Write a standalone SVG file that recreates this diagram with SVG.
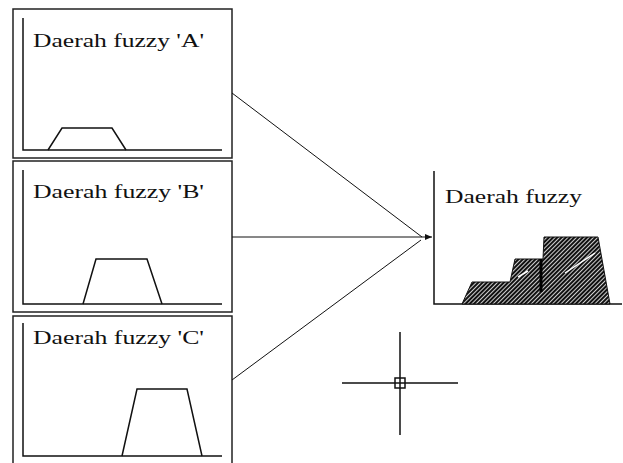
<svg xmlns="http://www.w3.org/2000/svg" width="623" height="463" viewBox="0 0 623 463">
<defs>
<style>
.frame{fill:none;stroke:#222;stroke-width:1.5}
.ax{fill:none;stroke:#111;stroke-width:1.5}
.mf{fill:none;stroke:#111;stroke-width:1.5}
.lbl{font-family:"Liberation Serif","Times New Roman",serif;font-size:19px;fill:#111}
.conn{stroke:#111;stroke-width:1;fill:none}
</style>
<pattern id="hatch" width="3" height="3" patternUnits="userSpaceOnUse" patternTransform="rotate(-45)">
<rect width="3" height="3" fill="#fff"/>
<rect width="3" height="2.2" fill="#111"/>
</pattern>
<marker id="ah" markerWidth="7" markerHeight="6" refX="7" refY="3" orient="auto" markerUnits="userSpaceOnUse">
<path d="M0,0 L7,3 L0,6 Z" fill="#111"/>
</marker>
</defs>
<rect width="623" height="463" fill="#fff"/>
<g id="nodeA">
<rect class="frame" x="13" y="9" width="219" height="149"/>
<path class="ax" d="M23,18 V150 H222"/>
<text class="lbl" x="33" y="47" textLength="171" lengthAdjust="spacingAndGlyphs">Daerah fuzzy 'A'</text>
<path class="mf" d="M48,150 L62,128 H112 L126,150"/>
</g>
<g id="nodeB">
<rect class="frame" x="13" y="161" width="219" height="151"/>
<path class="ax" d="M23,170 V304 H222"/>
<text class="lbl" x="33" y="198" textLength="171" lengthAdjust="spacingAndGlyphs">Daerah fuzzy 'B'</text>
<path class="mf" d="M83,304 L96,259 H147 L162,304"/>
</g>
<g id="nodeC">
<rect class="frame" x="13" y="316" width="219" height="160"/>
<path class="ax" d="M23,323 V456 H222"/>
<text class="lbl" x="33" y="344" textLength="171" lengthAdjust="spacingAndGlyphs">Daerah fuzzy 'C'</text>
<path class="mf" d="M122,456 L137,389 H187 L202,456"/>
</g>
<g id="nodeResult">
<path class="ax" d="M434,171 V304 H622"/>
<text class="lbl" x="445" y="203" textLength="137" lengthAdjust="spacingAndGlyphs">Daerah fuzzy</text>
<path d="M462,304 L472,282 H510 L515,259 H543 L544,237 H598 L610,304 Z" fill="url(#hatch)" stroke="#111" stroke-width="1"/>
<path d="M541,259 V292" stroke="#000" stroke-width="3"/>
<path d="M518,277 L528,271 M565,273 L595,253" stroke="#fff" stroke-width="1.5"/>
</g>
<g id="crosshair">
<path d="M400,332 V435 M342,383 H458" stroke="#111" stroke-width="1.5"/>
<rect x="395" y="378" width="10" height="10" fill="none" stroke="#111" stroke-width="1.5"/>
</g>
<g id="connectors">
<path class="conn" d="M232,93 L422,237"/>
<path class="conn" d="M232,380 L421,240"/>
<path class="conn" d="M232,237 L432,237" marker-end="url(#ah)"/>
</g>
</svg>
